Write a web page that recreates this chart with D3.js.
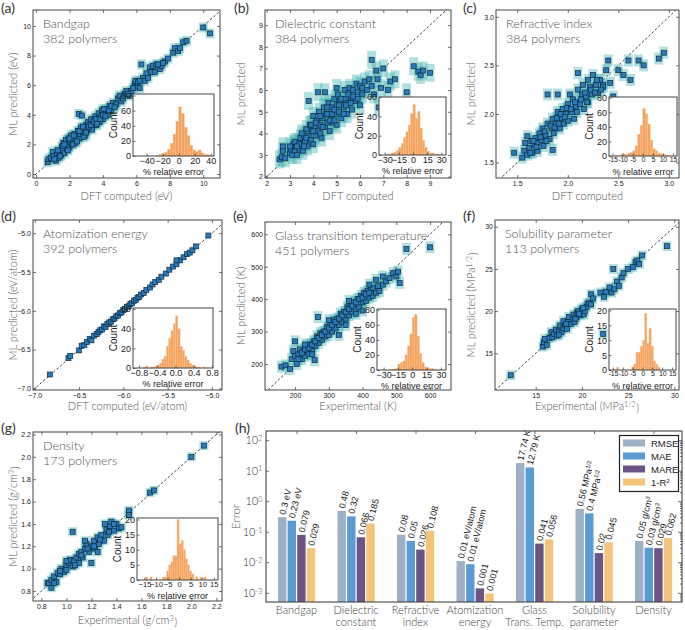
<!DOCTYPE html>
<html><head><meta charset="utf-8">
<script src="https://cdn.jsdelivr.net/npm/d3@7"></script>
<style>body{margin:0;background:#fff}</style></head>
<body><svg id="c" width="685" height="630"></svg>
<script>
// ---------------- DATA ----------------
const bandgapPts = [[0.7,0.8],[0.75,1.0],[0.9,1.1],[1.0,1.5],[1.05,1.2],[1.2,0.9],[1.25,1.3],[1.35,1.1],[1.4,1.5],[1.5,1.3],[1.55,1.8],[1.6,1.6],[1.65,2.1],[1.7,1.4],[1.75,1.9],[1.8,2.3],[1.85,1.7],[1.9,2.0],[1.95,2.4],[2.0,1.8],[2.05,2.2],[2.1,2.6],[2.15,2.0],[2.2,2.3],[2.3,2.7],[2.35,2.1],[2.4,2.5],[2.5,2.9],[2.55,4.05],[2.6,2.4],[2.65,2.7],[2.7,3.15],[2.75,3.95],[2.8,2.8],[2.9,3.1],[2.95,2.6],[3.0,3.3],[3.05,2.95],[3.1,3.5],[3.2,3.1],[3.25,3.4],[3.3,3.7],[3.35,3.0],[3.4,3.3],[3.5,3.6],[3.55,3.9],[3.6,3.3],[3.7,3.7],[3.75,4.1],[3.8,3.5],[3.9,3.9],[3.95,4.3],[4.0,3.7],[4.1,4.1],[4.2,4.4],[4.3,4.0],[4.4,4.6],[4.5,4.3],[4.6,4.8],[4.8,4.7],[4.9,5.1],[5.0,5.3],[5.1,4.9],[5.3,5.4],[5.4,5.6],[5.6,5.3],[5.7,5.6],[5.9,6.1],[5.95,6.3],[6.0,5.9],[6.1,6.2],[6.2,5.8],[6.3,7.4],[6.4,6.5],[6.5,6.3],[6.6,6.8],[6.7,6.5],[6.8,7.2],[6.9,6.9],[7.0,7.3],[7.1,6.9],[7.2,7.4],[7.4,7.1],[7.5,7.3],[7.7,7.6],[7.9,7.8],[8.2,8.2],[8.3,8.5],[8.5,8.3],[8.6,8.5],[8.8,8.9],[9.0,9.0],[10.0,9.9],[10.4,9.5],
  [1.1,1.0],[1.3,1.6],[1.45,1.2],[1.6,1.9],[1.7,2.0],[1.9,1.6],[2.0,2.4],[2.2,2.0],[2.25,2.6],[2.45,2.2],[2.6,2.9],[2.8,3.2],[2.85,2.5],[3.0,2.8],[3.15,3.2],[3.3,3.3],[3.45,3.55],[3.6,3.7],[3.65,3.4],[3.85,3.7],[4.0,4.0],[4.05,4.4],[4.15,3.9],[4.35,4.3],[4.5,4.6],[4.7,4.5],[5.2,5.1],[5.5,5.4],[5.8,5.8],[6.2,6.3],[7.3,7.4],[7.6,7.5]];
const dielectricPts = [[2.55,2.8],[2.65,2.9],[2.7,3.2],[2.7,3.4],[2.8,2.85],[3.0,3.1],[3.05,3.3],[3.1,3.0],[3.15,3.5],[3.2,3.2],[3.25,3.4],[3.3,3.0],[3.35,3.6],[3.4,3.3],[3.45,3.8],[3.5,3.5],[3.55,3.2],[3.6,3.9],[3.65,3.6],[3.7,4.2],[3.75,3.4],[3.8,5.5],[3.8,3.9],[3.85,4.4],[3.9,3.7],[3.95,4.1],[4.0,4.8],[4.0,3.5],[4.05,4.3],[4.1,3.9],[4.15,4.6],[4.2,5.9],[4.2,4.1],[4.25,5.0],[4.3,4.4],[4.35,3.8],[4.4,4.7],[4.45,5.2],[4.5,4.3],[4.5,5.9],[4.55,4.9],[4.6,4.5],[4.65,5.4],[4.7,4.1],[4.75,4.8],[4.8,5.2],[4.85,4.5],[4.9,5.6],[4.95,4.9],[5.0,5.3],[5.0,4.4],[5.05,5.8],[5.1,5.0],[5.15,5.5],[5.2,4.7],[5.3,5.2],[5.35,6.0],[5.4,5.6],[5.45,4.9],[5.5,5.4],[5.55,6.1],[5.6,5.7],[5.65,5.1],[5.7,6.0],[5.8,5.5],[5.85,6.3],[5.9,5.9],[6.0,5.3],[6.0,6.2],[6.1,5.8],[6.2,6.4],[6.3,6.0],[6.4,6.5],[6.5,7.4],[6.5,6.2],[6.6,5.8],[6.7,6.9],[6.75,6.5],[6.9,6.1],[7.0,7.0],[7.2,6.0],[7.3,6.4],[7.5,6.5],[8.0,5.9],[8.3,7.1],[8.5,6.85],[8.6,6.7],[8.7,6.9],[9.0,6.8],[6.8,5.2],[5.0,6.1],
  [3.0,3.4],[3.2,3.6],[3.4,3.5],[3.6,3.4],[3.7,3.8],[3.9,4.4],[4.0,4.1],[4.1,4.5],[4.3,4.0],[4.3,4.8],[4.4,4.3],[4.6,4.9],[4.6,5.2],[4.7,4.6],[4.8,4.9],[4.9,5.1],[5.1,5.3],[5.2,5.6],[5.3,4.9],[5.4,5.3],[5.6,5.4],[5.7,5.7],[5.9,5.6],[6.1,6.1],[3.5,4.0],[3.3,3.4],[4.9,4.6],[5.5,5.8]];
const refractivePts = [[1.47,1.6],[1.55,1.55],[1.57,1.62],[1.58,1.7],[1.6,1.58],[1.6,1.77],[1.62,1.65],[1.64,1.72],[1.65,1.6],[1.67,1.68],[1.68,1.75],[1.7,1.7],[1.7,1.62],[1.72,1.8],[1.74,1.73],[1.75,1.85],[1.76,1.67],[1.78,1.78],[1.8,1.9],[1.8,2.2],[1.82,1.74],[1.84,1.85],[1.85,1.95],[1.86,1.8],[1.88,1.9],[1.9,2.02],[1.9,2.2],[1.92,1.85],[1.94,1.96],[1.95,2.05],[1.96,1.9],[1.98,2.0],[2.0,2.1],[2.0,1.93],[2.02,2.2],[2.04,2.02],[2.05,2.15],[2.06,1.95],[2.08,2.08],[2.1,2.25],[2.1,2.42],[2.12,2.1],[2.14,2.2],[2.15,2.3],[2.16,2.05],[2.18,2.18],[2.2,2.35],[2.2,2.12],[2.22,2.28],[2.24,2.2],[2.25,2.4],[2.28,2.3],[2.3,2.22],[2.32,2.35],[2.35,2.3],[2.38,2.45],[2.4,2.55],[2.42,2.32],[2.45,2.18],[2.5,2.45],[2.55,2.4],[2.6,2.55],[2.62,2.35],[2.7,2.55],[2.75,2.5],[2.9,2.57],[2.95,2.63],[2.35,2.28],[1.85,1.63],
  [1.63,1.6],[1.66,1.72],[1.69,1.66],[1.73,1.76],[1.77,1.82],[1.79,1.72],[1.83,1.88],[1.87,1.86],[1.89,1.96],[1.91,1.9],[1.93,2.0],[1.97,1.97],[1.99,2.06],[2.03,2.05],[2.07,2.12],[2.09,2.02],[2.13,2.15],[2.17,2.22],[2.19,2.12],[2.23,2.25],[2.27,2.22],[2.29,2.35],[2.33,2.25]];
const atomizationPts = [[-6.83,-6.82],[-6.62,-6.61],[-6.6,-6.58],[-6.5,-6.51],[-6.47,-6.45],[-6.44,-6.44],[-6.41,-6.4],[-6.38,-6.36],[-6.36,-6.38],[-6.33,-6.32],[-6.3,-6.3],[-6.28,-6.27],[-6.26,-6.25],[-6.24,-6.24],[-6.22,-6.2],[-6.2,-6.21],[-6.18,-6.17],[-6.16,-6.15],[-6.14,-6.14],[-6.12,-6.11],[-6.1,-6.1],[-6.08,-6.07],[-6.06,-6.06],[-6.04,-6.03],[-6.02,-6.02],[-6.0,-5.99],[-5.98,-5.98],[-5.96,-5.95],[-5.94,-5.94],[-5.92,-5.91],[-5.9,-5.9],[-5.88,-5.87],[-5.86,-5.86],[-5.84,-5.83],[-5.82,-5.82],[-5.8,-5.79],[-5.77,-5.77],[-5.74,-5.73],[-5.7,-5.7],[-5.67,-5.66],[-5.64,-5.63],[-5.6,-5.6],[-5.57,-5.56],[-5.52,-5.52],[-5.48,-5.47],[-5.44,-5.43],[-5.4,-5.4],[-5.36,-5.35],[-5.32,-5.31],[-5.28,-5.27],[-5.25,-5.25],[-5.22,-5.22],[-5.18,-5.17],[-5.04,-5.03],[-5.4,-5.35]];
const glassPts = [[160,192],[172,196],[185,185],[190,215],[195,240],[200,270],[200,225],[205,200],[210,230],[215,245],[220,215],[225,240],[230,225],[235,255],[240,232],[245,260],[250,245],[255,270],[258,212],[260,255],[265,285],[268,345],[270,265],[275,295],[280,275],[285,300],[290,285],[295,315],[300,290],[305,320],[310,300],[315,335],[320,310],[325,340],[330,320],[335,355],[340,330],[345,360],[350,340],[355,375],[360,350],[365,385],[370,360],[375,390],[380,370],[385,400],[390,375],[395,410],[400,390],[405,420],[410,395],[415,425],[420,405],[425,430],[430,410],[440,420],[445,440],[450,425],[460,445],[470,455],[480,465],[490,480],[500,470],[505,485],[510,450],[530,555],[600,560],[330,290],[300,335],[360,395],[400,365],
  [210,215],[220,235],[230,245],[240,250],[250,260],[260,270],[270,280],[280,290],[290,300],[300,310],[310,320],[320,330],[330,340],[340,350],[350,360],[360,370],[370,380],[380,390],[390,400],[400,405],[410,415],[420,420],[430,435],[350,320],[380,355],[420,445],[440,460],[460,470],[250,230],[230,260]];
const solubilityPts = [[12.3,12.4],[15.8,15.8],[15.9,16.3],[16.0,16.7],[16.2,16.0],[16.5,16.8],[16.7,17.5],[16.8,16.9],[17.0,17.3],[17.2,17.8],[17.3,17.1],[17.5,17.6],[17.6,18.3],[17.8,17.5],[18.0,18.0],[18.0,18.8],[18.2,18.3],[18.4,17.9],[18.5,18.7],[18.6,19.3],[18.8,18.5],[19.0,19.0],[19.1,19.6],[19.2,18.7],[19.4,19.3],[19.5,19.8],[19.6,20.0],[19.8,19.5],[20.0,20.2],[20.2,19.6],[20.3,20.0],[20.5,20.5],[20.6,20.9],[20.8,21.0],[21.0,20.8],[21.0,22.0],[21.2,21.5],[22.0,22.2],[22.3,17.3],[22.4,21.7],[22.6,22.3],[23.0,22.8],[23.2,22.2],[23.4,25.0],[23.5,22.6],[23.8,23.5],[24.0,23.0],[24.3,24.0],[24.5,24.5],[25.0,25.0],[25.5,25.2],[25.8,25.8],[26.0,26.0],[26.2,25.6],[26.5,26.6],[29.2,27.7],
  [17.5,17.2],[18.3,18.5],[19.3,19.1],[19.7,19.7],[20.1,20.4]];
const densityPts = [[0.85,0.87],[0.86,0.87],[0.88,0.9],[0.9,0.93],[0.92,0.88],[0.93,0.96],[0.95,0.95],[0.96,1.0],[0.98,0.97],[1.0,1.03],[1.0,0.99],[1.02,1.05],[1.03,1.08],[1.05,1.33],[1.05,1.02],[1.06,1.07],[1.08,1.1],[1.1,1.05],[1.1,1.13],[1.12,1.15],[1.13,1.1],[1.15,1.18],[1.16,1.22],[1.18,1.15],[1.2,1.2],[1.2,1.05],[1.22,1.25],[1.23,1.18],[1.25,1.28],[1.26,1.22],[1.28,1.3],[1.3,1.25],[1.31,1.4],[1.32,1.35],[1.33,1.3],[1.35,1.38],[1.36,1.42],[1.38,1.34],[1.4,1.4],[1.42,1.36],[1.44,1.37],[1.5,1.52],[1.5,1.48],[1.67,1.68],[1.7,1.7],[2.0,2.0],[2.1,2.1],[1.15,1.25],[1.25,1.15],[0.88,0.83],
  [0.95,0.98],[1.0,1.07],[1.07,1.03],[1.12,1.12],[1.17,1.18],[1.22,1.2],[1.27,1.26],[1.34,1.33],[1.38,1.4],[0.9,0.87]];

// histograms of % relative error: first bin start, bin width, counts
const histBandgapStart = -28, histBandgapBin = 3.5;
const histBandgap = [1,2,3,5,9,17,29,46,65,56,38,27,14,8,6,8,4,2,2,1];
const histDielectricStart = -27.5, histDielectricBin = 2.5;
const histDielectric = [1,1,2,3,5,8,12,18,24,31,43,52,38,45,28,15,8,4,2,2,1,1];
const histRefractiveStart = -13.75, histRefractiveBin = 1.25;
const histRefractive = [1,0,2,3,2,4,5,7,14,30,42,65,58,44,22,10,7,4,3,2,1,1];
const histAtomStart = -0.7, histAtomBin = 0.05;
const histAtom = [1,2,0,1,1,2,3,5,9,12,22,30,38,45,53,40,22,18,12,8,5,3,2,1,1,0,1];
const histGlassStart = -22.5, histGlassBin = 2.5;
const histGlass = [1,1,2,8,10,12,20,32,48,70,74,45,22,10,4,3,2,2,1];
const histSolubilityStart = -13.2, histSolubilityBin = 1.1;
const histSolubility = [1,0,0,0,0,0,0,1,2,6,6,8,10,19,9,14,8,3,2,1];
const histDensityStart = -14.4, histDensityBin = 0.9;
const histDensity = [1,0,1,0,0,0,0,0,1,1,3,5,6,8,8,20,12,13,10,7,5,3,2,0,1,0,1,0,1];

// bar chart
const categories = ["Bandgap","Dielectric\nconstant","Refractive\nindex","Atomization\nenergy","Glass\nTrans. Temp.","Solubility\nparameter","Density"];
const metricNames = ["RMSE","MAE","MARE","1-R^{2}"];
const errRMSE = [0.3,0.48,0.08,0.011,17.74,0.56,0.05];
const errMAE  = [0.23,0.32,0.05,0.0087,12.79,0.4,0.03];
const errMARE = [0.079,0.066,0.026,0.0014,0.041,0.02,0.029];
const errR2   = [0.029,0.185,0.108,0.00095,0.056,0.045,0.062];
const labRMSE = ["0.3 eV","0.48","0.08","0.01 eV/atom","17.74 K","0.56 MPa^{1/2}","0.05 g/cm^{3}"];
const labMAE  = ["0.23 eV","0.32","0.05","0.01 eV/atom","12.79 K","0.4 MPa^{1/2}","0.03 g/cm^{3}"];
const labMARE = ["0.079","0.066","0.026","0.001","0.041","0.02","0.029"];
const labR2   = ["0.029","0.185","0.108","0.001","0.056","0.045","0.062"];
const barColors = ["#9db0c6","#5b9bd3","#6c5585","#f2c57a"];
const logTicks = [1e-3,1e-2,1e-1,1,10,100];

// ---------------- DRAWING ----------------
const svg = d3.select('#c');
const SANS = "'Liberation Sans', Arial, sans-serif";
const NARROW = "'Liberation Sans Narrow','Arial Narrow','Liberation Sans',sans-serif";
const GILL = "Lato, 'Open Sans', sans-serif";

function rich(sel, str){
  const parts = str.split(/\^\{([^}]*)\}/);
  parts.forEach((p,i)=>{
    if(!p) return;
    if(i%2===1){
      sel.append('tspan').attr('font-size','0.65em').attr('dy','-0.45em').text(p);
      sel.append('tspan').attr('dy','0.45em').text('\u200a');
    } else sel.append('tspan').text(p);
  });
  return sel;
}

function styleAxis(g, size, fam){
  g.select('.domain').remove();
  g.selectAll('.tick line').attr('stroke','#333').attr('stroke-width',0.7);
  g.selectAll('.tick text').attr('font-family',fam||SANS).attr('font-size',size).attr('fill','#222');
}

function scatter(c){
  const g = svg.append('g');
  const [L,R,T,B] = c.box;
  const x = d3.scaleLinear().domain(c.xd).range([L,R]);
  const y = d3.scaleLinear().domain(c.yd).range([B,T]);
  const cid = 'clip'+c.id;
  svg.append('clipPath').attr('id',cid).append('rect').attr('x',L).attr('y',T).attr('width',R-L).attr('height',B-T);
  const inner = g.append('g').attr('clip-path',`url(#${cid})`);
  const lo = Math.min(c.xd[0],c.yd[0]), hi = Math.max(c.xd[1],c.yd[1]);
  inner.append('line').attr('x1',x(lo)).attr('y1',y(lo)).attr('x2',x(hi)).attr('y2',y(hi))
    .attr('stroke','#111').attr('stroke-width',0.8).attr('stroke-dasharray','2.5,2');
  if(c.hw>0){
    inner.selectAll('rect.halo').data(c.pts).join('rect').attr('class','halo')
      .attr('x',d=>x(d[0])-c.hw/2).attr('y',d=>y(d[1])-c.hh/2).attr('width',c.hw).attr('height',c.hh)
      .attr('fill','#3fb0b0').attr('opacity',0.4);
  }
  inner.selectAll('rect.mk').data(c.pts).join('rect').attr('class','mk')
    .attr('x',d=>x(d[0])-2.5).attr('y',d=>y(d[1])-2.5).attr('width',5).attr('height',5)
    .attr('fill','#2a7bb8').attr('stroke','#0f2a40').attr('stroke-width',0.7);
  // axes
  const gx = g.append('g').attr('transform',`translate(0,${B})`).call(d3.axisBottom(x).tickValues(c.xt).tickFormat(c.xf).tickSize(-3).tickPadding(3.5));
  styleAxis(gx,7);
  const gy = g.append('g').attr('transform',`translate(${L},0)`).call(d3.axisLeft(y).tickValues(c.yt).tickFormat(c.yf).tickSize(-3).tickPadding(2));
  styleAxis(gy,7);
  const gt = g.append('g').attr('transform',`translate(0,${T})`).call(d3.axisTop(x).tickValues(c.xt).tickFormat('').tickSize(-3));
  styleAxis(gt,7);
  const gr = g.append('g').attr('transform',`translate(${R},0)`).call(d3.axisRight(y).tickValues(c.yt).tickFormat('').tickSize(-3));
  styleAxis(gr,7);
  g.append('rect').attr('x',L).attr('y',T).attr('width',R-L).attr('height',B-T).attr('fill','none').attr('stroke','#444').attr('stroke-width',1);
  // titles
  g.append('text').attr('x',L+10).attr('y',T+18).attr('font-family',GILL).attr('font-weight',300).attr('font-size',12.5).attr('fill','#555').text(c.title);
  g.append('text').attr('x',L+10).attr('y',T+33).attr('font-family',GILL).attr('font-weight',300).attr('font-size',12.5).attr('fill','#555').text(c.count);
  // axis labels
  rich(g.append('text').attr('x',(L+R)/2).attr('y',c.xlY).attr('text-anchor','middle').attr('font-family',GILL).attr('font-weight',300).attr('font-size',11).attr('fill','#555'), c.xlab);
  rich(g.append('text').attr('transform',`translate(${c.ylX},${(T+B)/2}) rotate(-90)`).attr('text-anchor','middle').attr('font-family',GILL).attr('font-weight',300).attr('font-size',11).attr('fill','#555'), c.ylab);
  // panel letter
  g.append('text').attr('x',c.lx).attr('y',c.ly).attr('font-family',GILL).attr('font-size',14).attr('fill','#333').text(c.letter);
  // inset histogram
  const [iL,iR,iT,iB] = c.ib;
  const ix = d3.scaleLinear().domain(c.ixd).range([iL,iR]);
  const iy = d3.scaleLinear().domain(c.iyd).range([iB,iT]);
  const ig = g.append('g');
  ig.append('rect').attr('x',iL).attr('y',iT).attr('width',iR-iL).attr('height',iB-iT).attr('fill','#fff');
  const bins = c.hist.map((n,k)=>({x0:c.hs+k*c.hb, x1:c.hs+(k+1)*c.hb, n}));
  ig.selectAll('rect.hb').data(bins.filter(d=>d.n>0)).join('rect').attr('class','hb')
    .attr('x',d=>ix(d.x0)).attr('width',d=>ix(d.x1)-ix(d.x0)).attr('y',d=>iy(d.n)).attr('height',d=>iB-iy(d.n))
    .attr('fill','#f4a25c').attr('stroke','#f7c49a').attr('stroke-width',0.4);
  const dense = c.ixt.length>5 && (iR-iL)<75;
  const xfmt = dense ? (v=>c.ixf(v).replace('\u2212','-')) : c.ixf;
  const igx = ig.append('g').attr('transform',`translate(0,${iB})`).call(d3.axisBottom(ix).tickValues(c.ixt).tickFormat(xfmt).tickSize(-2.5).tickPadding(1.5));
  styleAxis(igx,dense?7:(c.ixt.length>5?7.6:9),NARROW);
  if(dense) igx.selectAll('.tick text').attr('letter-spacing','-0.3');
  const igy = ig.append('g').attr('transform',`translate(${iL},0)`).call(d3.axisLeft(iy).tickValues(c.iyt).tickFormat(d3.format('d')).tickSize(-2.5).tickPadding(2));
  styleAxis(igy,9,NARROW);
  ig.append('rect').attr('x',iL).attr('y',iT).attr('width',iR-iL).attr('height',iB-iT).attr('fill','none').attr('stroke','#444').attr('stroke-width',1);
  ig.append('text').attr('x',(iL+iR)/2).attr('y',iB+18.5).attr('text-anchor','middle').attr('font-family',SANS).attr('font-size',9).attr('fill','#222').text('% relative error');
  ig.append('text').attr('transform',`translate(${iL-16},${(iT+iB)/2}) rotate(-90)`).attr('text-anchor','middle').attr('font-family',NARROW).attr('font-size',10).attr('fill','#222').text('Count');
}

const fi = d3.format('d'), f1 = d3.format('.1f');
scatter({id:'a',letter:'(a)',lx:1,ly:13,pts:bandgapPts,box:[33,220,10,178],xd:[-0.18,11.0],yd:[-0.27,11.08],
  xt:[0,2,4,6,8,10],yt:[0,2,4,6,8,10],xf:fi,yf:fi,hw:9,hh:10,title:'Bandgap',count:'382 polymers',
  xlab:'DFT computed (eV)',xlY:200,ylab:'ML predicted (eV)',ylX:17,
  ib:[133,214,94,156],ixd:[-57,44],iyd:[0,82],ixt:[-40,-20,0,20,40],ixf:fi,iyt:[0,20,40,60,80],hist:histBandgap,hs:histBandgapStart,hb:histBandgapBin});
scatter({id:'b',letter:'(b)',lx:234,ly:13,pts:dielectricPts,box:[265,451,10,178],xd:[1.93,9.9],yd:[1.94,9.7],
  xt:[2,3,4,5,6,7,8,9],yt:[2,3,4,5,6,7,8,9],xf:fi,yf:fi,hw:9,hh:18,title:'Dielectric constant',count:'384 polymers',
  xlab:'DFT computed',xlY:200,ylab:'ML predicted',ylX:245,
  ib:[379,446,97,155],ixd:[-36,35],iyd:[0,60],ixt:[-30,-15,0,15,30],ixf:fi,iyt:[0,20,40,60],hist:histDielectric,hs:histDielectricStart,hb:histDielectricBin});
scatter({id:'c',letter:'(c)',lx:463,ly:13,pts:refractivePts,box:[496,679,10,178],xd:[1.29,3.1],yd:[1.34,3.07],
  xt:[1.5,2.0,2.5,3.0],yt:[1.5,2.0,2.5,3.0],xf:f1,yf:f1,hw:9,hh:12,title:'Refractive index',count:'384 polymers',
  xlab:'DFT computed',xlY:200,ylab:'ML predicted',ylX:475,
  ib:[609,677,97,156],ixd:[-16.7,17],iyd:[0,81],ixt:[-15,-10,-5,0,5,10,15],ixf:fi,iyt:[0,20,40,60,80],hist:histRefractive,hs:histRefractiveStart,hb:histRefractiveBin});
scatter({id:'d',letter:'(d)',lx:1,ly:221,pts:atomizationPts,box:[33,222,220,390],xd:[-7.02,-4.886],yd:[-7.02,-4.83],
  xt:[-7.0,-6.5,-6.0,-5.5,-5.0],yt:[-7.0,-6.5,-6.0,-5.5,-5.0],xf:f1,yf:f1,hw:0,hh:0,title:'Atomization energy',count:'392 polymers',
  xlab:'DFT computed (eV/atom)',xlY:410,ylab:'ML predicted (eV/atom)',ylX:17,
  ib:[133,213,308,368],ixd:[-0.93,0.82],iyd:[0,61],ixt:[-0.8,-0.4,0,0.4,0.8],ixf:f1,iyt:[0,20,40,60],hist:histAtom,hs:histAtomStart,hb:histAtomBin});
scatter({id:'e',letter:'(e)',lx:233,ly:221,pts:glassPts,box:[265,451,222,390],xd:[111,662],yd:[120,638],
  xt:[200,300,400,500,600],yt:[200,300,400,500,600],xf:fi,yf:fi,hw:9,hh:12,title:'Glass transition temperature',count:'451 polymers',
  xlab:'Experimental (K)',xlY:410,ylab:'ML predicted (K)',ylX:245,
  ib:[377,446,309,370],ixd:[-36.9,35.3],iyd:[0,81],ixt:[-30,-15,0,15,30],ixf:fi,iyt:[0,20,40,60,80],hist:histGlass,hs:histGlassStart,hb:histGlassBin});
scatter({id:'f',letter:'(f)',lx:463,ly:221,pts:solubilityPts,box:[495,679,220,390],xd:[10.6,30.5],yd:[10.65,30.8],
  xt:[15,20,25,30],yt:[15,20,25,30],xf:fi,yf:fi,hw:9,hh:10,title:'Solubility parameter',count:'113 polymers',
  xlab:'Experimental (MPa^{1/2})',xlY:410,ylab:'ML predicted (MPa^{1/2})',ylX:475,
  ib:[609,676,309,370],ixd:[-17,17],iyd:[0,20.5],ixt:[-15,-10,-5,0,5,10,15],ixf:fi,iyt:[0,5,10,15,20],hist:histSolubility,hs:histSolubilityStart,hb:histSolubilityBin});
scatter({id:'g',letter:'(g)',lx:1,ly:433,pts:densityPts,box:[33,222,432,601],xd:[0.733,2.245],yd:[0.711,2.222],
  xt:[0.8,1.0,1.2,1.4,1.6,1.8,2.0,2.2],yt:[0.8,1.0,1.2,1.4,1.6,1.8,2.0,2.2],xf:f1,yf:f1,hw:9,hh:9,title:'Density',count:'173 polymers',
  xlab:'Experimental (g/cm^{3})',xlY:624,ylab:'ML predicted (g/cm^{3})',ylX:17,
  ib:[137,218,518,580],ixd:[-18.2,16.8],iyd:[0,20.5],ixt:[-15,-10,-5,0,5,10,15],ixf:fi,iyt:[0,5,10,15,20],hist:histDensity,hs:histDensityStart,hb:histDensityBin});

// ---------- (h) bar chart ----------
(function(){
  const L=266,R=682,T=431,B=602;
  const g = svg.append('g');
  const bx = d3.scalePoint().domain(d3.range(categories.length)).range([296.5,653.5]);
  const by = d3.scaleLog().domain([5e-4,200]).range([B,T]);
  const series = [errRMSE,errMAE,errMARE,errR2];
  const labels = [labRMSE,labMAE,labMARE,labR2];
  const bw = 8.4, step = 9.6;
  series.forEach((vals,j)=>{
    g.selectAll('rect.s'+j).data(vals).join('rect').attr('class','s'+j)
      .attr('x',(d,i)=>bx(i)-18.5+j*step).attr('width',bw)
      .attr('y',d=>by(d)).attr('height',d=>B-by(d)).attr('fill',barColors[j]);
    vals.forEach((v,i)=>{
      const tx = bx(i)-18.5+j*step+bw/2+3, ty = by(v)-2;
      rich(g.append('text').attr('transform',`translate(${tx},${ty}) rotate(-76)`)
        .attr('font-family',NARROW).attr('font-size',9).attr('fill','#222'), labels[j][i]);
    });
  });
  const gl = g.append('g').attr('transform',`translate(${L},0)`).call(d3.axisLeft(by).tickValues(logTicks).tickFormat('').tickSize(-3));
  styleAxis(gl,8);
  const minors = [];
  for(let e=-4;e<=2;e++) for(let m=2;m<=9;m++){const v=m*Math.pow(10,e); if(v>5e-4&&v<200) minors.push(v);}
  const grr = g.append('g').attr('transform',`translate(${R},0)`).call(d3.axisRight(by).tickValues(logTicks).tickFormat('').tickSize(-4));
  styleAxis(grr,8);
  const grm = g.append('g').attr('transform',`translate(${R},0)`).call(d3.axisRight(by).tickValues(minors).tickFormat('').tickSize(-2));
  styleAxis(grm,8);
  const gtop = g.append('g').attr('transform',`translate(0,${T})`).call(d3.axisTop(bx).tickFormat('').tickSize(-3));
  styleAxis(gtop,8);
  g.append('rect').attr('x',L).attr('y',T).attr('width',R-L).attr('height',B-T).attr('fill','none').attr('stroke','#444').attr('stroke-width',1.1);
  logTicks.forEach(v=>{
    const e = Math.round(Math.log10(v));
    rich(g.append('text').attr('x',L-3).attr('y',by(v)+4).attr('text-anchor','end').attr('font-family',GILL).attr('font-weight',300).attr('font-size',11).attr('fill','#333'), '10^{'+(e<0?'-'+(-e):e)+'}');
  });
  g.append('text').attr('transform',`translate(240,${(T+B)/2}) rotate(-90)`).attr('text-anchor','middle').attr('font-family',GILL).attr('font-weight',300).attr('font-size',11.5).attr('fill','#555').text('Error');
  categories.forEach((c,i)=>{
    c.split('\n').forEach((line,k)=>{
      g.append('text').attr('x',bx(i)).attr('y',614+k*12).attr('text-anchor','middle').attr('font-family',GILL).attr('font-weight',300).attr('font-size',11).attr('fill','#444').text(line);
    });
  });
  const lg = g.append('g');
  lg.append('rect').attr('x',619.5).attr('y',435.5).attr('width',59).attr('height',56).attr('fill','#fff').attr('stroke','#222').attr('stroke-width',1.2);
  metricNames.forEach((m,j)=>{
    const yy = 443+j*13;
    lg.append('rect').attr('x',623).attr('y',yy-3.5).attr('width',22).attr('height',7).attr('fill',barColors[j]);
    rich(lg.append('text').attr('x',651).attr('y',yy+3.5).attr('font-family',NARROW).attr('font-size',9.5).attr('fill','#222'), m);
  });
  g.append('text').attr('x',235).attr('y',433).attr('font-family',GILL).attr('font-size',14).attr('fill','#333').text('(h)');
})();
</script>
</body></html>
